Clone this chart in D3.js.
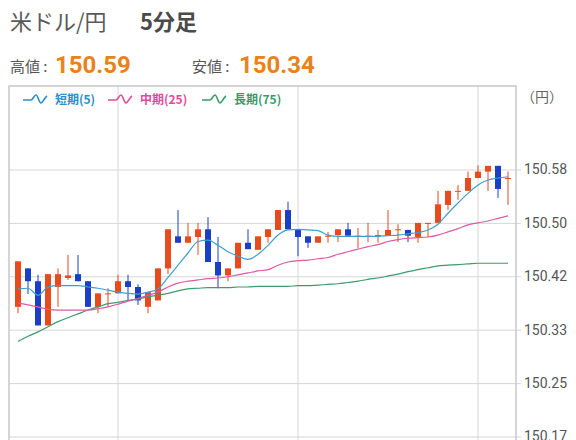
<!DOCTYPE html>
<html>
<head>
<meta charset="utf-8">
<script src="https://cdn.jsdelivr.net/npm/d3@7"></script>
<style>
  body { margin: 0; background: #fff; }
  svg text { font-family: "Noto Sans CJK JP", "Noto Sans", sans-serif; }
</style>
</head>
<body>
<svg width="576" height="440"></svg>
<script>
// 5分足 ローソク足 (50本)
var openVals = [150.369,150.429,150.409,150.340,150.400,150.414,150.420,150.409,150.369,150.390,
  150.390,150.409,150.400,150.369,150.379,150.429,150.479,150.469,150.478,150.490,
  150.439,150.418,150.429,150.469,150.458,150.478,150.489,150.520,150.490,150.479,
  150.469,150.480,150.481,150.490,150.480,150.480,150.481,150.480,150.490,150.489,
  150.478,150.500,150.500,150.528,150.550,150.550,150.570,150.580,150.589,150.570];
var highVals = [150.440,150.429,150.419,150.420,150.429,150.450,150.450,150.409,150.390,150.398,
  150.419,150.419,150.404,150.392,150.429,150.490,150.520,150.500,150.500,150.509,
  150.478,150.429,150.469,150.490,150.479,150.490,150.520,150.533,150.490,150.479,
  150.479,150.486,150.490,150.500,150.492,150.500,150.489,150.520,150.498,150.489,
  150.500,150.500,150.550,150.550,150.559,150.580,150.590,150.589,150.589,150.580];
var lowVals = [150.359,150.389,150.340,150.340,150.369,150.411,150.409,150.369,150.359,150.369,
  150.390,150.379,150.372,150.359,150.379,150.420,150.469,150.469,150.450,150.439,
  150.398,150.409,150.429,150.459,150.458,150.469,150.489,150.490,150.448,150.461,
  150.469,150.469,150.470,150.480,150.461,150.470,150.469,150.480,150.470,150.470,
  150.469,150.478,150.500,150.520,150.536,150.550,150.570,150.550,150.539,150.528];
var closeVals = [150.440,150.409,150.340,150.420,150.420,150.418,150.409,150.369,150.390,150.390,
  150.409,150.400,150.379,150.392,150.429,150.490,150.469,150.479,150.490,150.439,
  150.418,150.429,150.469,150.459,150.479,150.490,150.520,150.490,150.478,150.469,
  150.479,150.480,150.490,150.480,150.480,150.480,150.481,150.489,150.490,150.480,
  150.500,150.500,150.529,150.550,150.550,150.570,150.580,150.589,150.553,150.570];

// 移動平均線
var ma5 = [150.397,150.398,150.387,150.400,150.402,150.402,150.402,150.400,150.398,150.395,
  150.392,150.390,150.389,150.392,150.397,150.415,150.434,150.453,150.471,150.473,
  150.465,150.455,150.448,150.443,150.451,150.465,150.481,150.489,150.490,150.489,
  150.488,150.481,150.479,150.479,150.479,150.479,150.479,150.480,150.481,150.483,
  150.485,150.489,150.498,150.515,150.531,150.546,150.559,150.567,150.570,150.572];
var ma25 = [150.375,150.372,150.369,150.365,150.364,150.364,150.364,150.364,150.366,150.369,
  150.373,150.378,150.382,150.387,150.392,150.400,150.406,150.409,150.411,150.413,
  150.414,150.416,150.419,150.422,150.425,150.427,150.434,150.439,150.441,150.442,
  150.444,150.446,150.451,150.455,150.459,150.463,150.466,150.471,150.474,150.476,
  150.477,150.478,150.481,150.486,150.491,150.497,150.500,150.503,150.507,150.511];
var ma75 = [150.315,150.323,150.330,150.338,150.346,150.352,150.358,150.364,150.369,150.374,
  150.376,150.379,150.381,150.385,150.387,150.390,150.394,150.397,150.398,150.399,
  150.399,150.399,150.400,150.400,150.401,150.401,150.401,150.401,150.402,150.402,
  150.403,150.404,150.405,150.407,150.409,150.412,150.414,150.417,150.420,150.424,
  150.427,150.430,150.433,150.434,150.435,150.436,150.437,150.437,150.437,150.437];

var yTicks = [150.1667, 150.25, 150.3333, 150.4167, 150.5, 150.5833];
var xGridIdx = [10, 28, 46];
var legendNames = ["短期(5)", "中期(25)", "長期(75)"];
var highText = "150.59", lowText = "150.34";

var upColor = "#e8491d", downColor = "#1a3ec6";
var maColors = ["#3d9fcf", "#dc5aa8", "#3f9a6c"];
var legendColors = ["#2a8dcc", "#e04a9c", "#3a9a6a"];

var svg = d3.select("svg");
var plot = {left: 9, right: 516, top: 86, bottom: 450};

var x = d3.scaleLinear().domain([0, 49]).range([18, 508]);
var y = d3.scaleLinear().domain([150.1667, 150.5833]).range([436.5, 169.5]);

// タイトル
var title = svg.append("text").attr("x", 10).attr("y", 30).style("font-size", "22px").attr("fill", "#5a5a5a");
title.append("tspan").text("米ドル/円");
title.append("tspan").attr("x", 140).style("font-weight", "bold").attr("fill", "#4a4a4a").text("5分足");

svg.append("text").attr("x", 10).attr("y", 72).style("font-size", "15px").attr("fill", "#555").text("高値 :");
svg.append("text").attr("x", 55).attr("y", 73).style("font-size", "24px").style("font-weight", "bold")
  .style("font-family", "Roboto").attr("fill", "#e8821c").text(highText);
svg.append("text").attr("x", 192).attr("y", 72).style("font-size", "15px").attr("fill", "#555").text("安値 :");
svg.append("text").attr("x", 239).attr("y", 73).style("font-size", "24px").style("font-weight", "bold")
  .style("font-family", "Roboto").attr("fill", "#e8821c").text(lowText);

// グリッド
var g = svg.append("g");
g.append("g")
  .attr("transform", "translate(" + plot.left + ",0)")
  .call(d3.axisRight(y).tickValues(yTicks).tickSize(512).tickFormat(""))
  .call(function(s) { s.select(".domain").remove(); s.selectAll("line").attr("stroke", "#d6d6d6"); });

g.selectAll(".vgrid").data(xGridIdx).enter().append("line")
  .attr("x1", function(d) { return x(d); }).attr("x2", function(d) { return x(d); })
  .attr("y1", plot.top).attr("y2", plot.bottom)
  .attr("stroke", "#d6d6d6");

g.append("rect")
  .attr("x", plot.left).attr("y", plot.top)
  .attr("width", plot.right - plot.left).attr("height", plot.bottom - plot.top)
  .attr("fill", "none").attr("stroke", "#c8c8c8").attr("stroke-width", 1.5);

// 右の目盛
svg.append("g")
  .attr("transform", "translate(" + plot.right + ",0)")
  .call(d3.axisRight(y).tickValues(yTicks).tickSize(0).tickPadding(8).tickFormat(d3.format(".2f")))
  .call(function(s) {
    s.select(".domain").remove();
    s.selectAll("text").style("font-size", "14px").attr("fill", "#555")
      .style("font-family", "Roboto");
  });
svg.append("text").attr("x", 521).attr("y", 102).style("font-size", "14px").attr("fill", "#666").text("（円）");

// ローソク足
var candles = d3.range(openVals.length).map(function(i) {
  return {i: i, o: openVals[i], h: highVals[i], l: lowVals[i], c: closeVals[i]};
});
function col(d) { return d.c < d.o ? downColor : upColor; }

var cg = svg.append("g").selectAll("g").data(candles).enter().append("g");
cg.append("line")
  .attr("x1", function(d) { return x(d.i); }).attr("x2", function(d) { return x(d.i); })
  .attr("y1", function(d) { return y(d.h); }).attr("y2", function(d) { return y(d.l); })
  .attr("stroke", col).attr("stroke-width", 1);
cg.append("rect")
  .attr("x", function(d) { return x(d.i) - 3; })
  .attr("width", 6)
  .attr("y", function(d) { return y(Math.max(d.o, d.c)); })
  .attr("height", function(d) { return Math.max(1, Math.abs(y(d.o) - y(d.c))); })
  .attr("fill", col);

// 移動平均線
var line = d3.line().x(function(d, i) { return x(i); }).y(function(d) { return y(d); }).curve(d3.curveMonotoneX);
[ma75, ma25, ma5].forEach(function(s, k) {
  svg.append("path").datum(s).attr("d", line)
    .attr("fill", "none").attr("stroke", maColors[2 - k]).attr("stroke-width", 1.2);
});

// 凡例
var legendX = [23, 108, 202];
var lg = svg.append("g").selectAll("g").data(legendNames).enter().append("g")
  .attr("transform", function(d, i) { return "translate(" + legendX[i] + ",99)"; });
lg.append("path")
  .attr("d", "M0,1 L8,1 C10,1 11,-4 13,-4 C15,-4 16,4 18,4 C20,4 21,-1 24,-3")
  .attr("fill", "none").attr("stroke-width", 1.6)
  .attr("stroke", function(d, i) { return legendColors[i]; });
lg.append("text").attr("x", 32).attr("y", 4.5)
  .style("font-size", "12px").style("font-weight", "bold")
  .attr("fill", function(d, i) { return legendColors[i]; })
  .text(function(d) { return d; });
</script>
</body>
</html>
